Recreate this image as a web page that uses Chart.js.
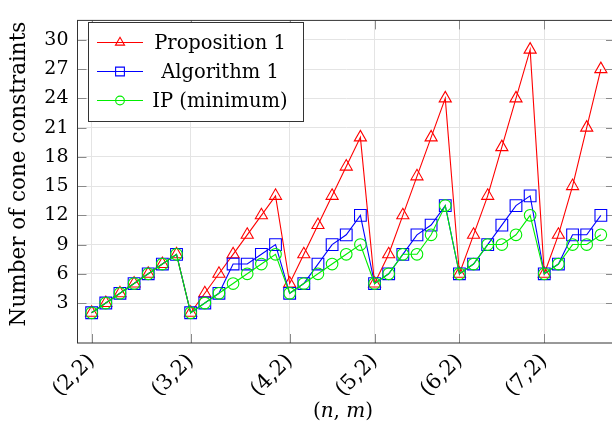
<!DOCTYPE html>
<html>
<head>
<meta charset="utf-8">
<script src="https://cdn.jsdelivr.net/npm/chart.js@4.4.1/dist/chart.umd.min.js"></script>
<style>
  html, body { margin: 0; padding: 0; background: #fff; overflow: hidden; }
  #wrap { width: 612px; height: 427px; overflow: hidden; position: relative; }
  #chart { display: block; }
</style>
</head>
<body>
<div id="wrap"><canvas id="chart" width="640" height="427"></canvas></div>
<script>
// x axis: point index, labelled only at the start of each n
const tickLabels = ['(2,2)', '(3,2)', '(4,2)', '(5,2)', '(6,2)', '(7,2)'];
const tickIndex = [0, 7, 14, 20, 26, 32];
const yTicks = [3, 6, 9, 12, 15, 18, 21, 24, 27, 30];

const proposition1 = [2, 3, 4, 5, 6, 7, 8,  2, 4, 6, 8, 10, 12, 14,  5, 8, 11, 14, 17, 20,
                      5, 8, 12, 16, 20, 24,  6, 10, 14, 19, 24, 29,  6, 10, 15, 21, 27];
const algorithm1   = [2, 3, 4, 5, 6, 7, 8,  2, 3, 4, 7, 7, 8, 9,  4, 5, 7, 9, 10, 12,
                      5, 6, 8, 10, 11, 13,  6, 7, 9, 11, 13, 14,  6, 7, 10, 10, 12];
const ipMinimum    = [2, 3, 4, 5, 6, 7, 8,  2, 3, 4, 5, 6, 7, 8,  4, 5, 6, 7, 8, 9,
                      5, 6, 8, 8, 10, 13,  6, 7, 9, 9, 10, 12,  6, 7, 9, 9, 10];

const FONT = "'DejaVu Serif', serif";

const series = [
  { label: 'Proposition 1', values: proposition1, color: '#ff0000', style: 'triangle', r: 7, order: 2 },
  { label: 'Algorithm 1', values: algorithm1, color: '#0000ff', style: 'rect', r: 8.3, order: 1 },
  { label: 'IP (minimum)', values: ipMinimum, color: '#00ee00', style: 'circle', r: 5.8, order: 0 },
];

const toPoints = arr => arr.map((v, i) => ({ x: i, y: v }));

// ticks, frame, axis titles and legend in pgfplots style
const decor = {
  id: 'decor',
  beforeDatasetsDraw(chart) {
    const { ctx, chartArea: a, scales: { x, y } } = chart;
    ctx.save();
    ctx.strokeStyle = '#8a8a8a';
    ctx.lineWidth = 1;
    ctx.beginPath();
    yTicks.forEach(v => {
      const py = Math.round(y.getPixelForValue(v)) + 0.5;
      ctx.moveTo(a.left, py); ctx.lineTo(a.left + 9, py);
      ctx.moveTo(a.right, py); ctx.lineTo(a.right - 9, py);
    });
    tickIndex.forEach(v => {
      const px = Math.round(x.getPixelForValue(v)) + 0.5;
      ctx.moveTo(px, a.bottom); ctx.lineTo(px, a.bottom - 9);
      ctx.moveTo(px, a.top); ctx.lineTo(px, a.top + 9);
    });
    ctx.stroke();
    ctx.restore();
  },
  afterDraw(chart) {
    const { ctx, chartArea: a } = chart;
    ctx.save();
    // frame
    ctx.strokeStyle = '#333';
    ctx.lineWidth = 1;
    ctx.strokeRect(a.left, a.top, a.right - a.left, a.bottom - a.top);

    // y title
    ctx.fillStyle = '#000';
    ctx.save();
    ctx.translate(19, 174);
    ctx.rotate(-Math.PI / 2);
    ctx.font = '21.5px ' + FONT;
    ctx.textAlign = 'center';
    ctx.textBaseline = 'middle';
    ctx.fillText('Number of cone constraints', 0, 0);
    ctx.restore();

    // x title (n, m) with italic letters
    const parts = [['(', ''], ['n', 'italic '], [', ', ''], ['m', 'italic '], [')', '']];
    let total = 0;
    parts.forEach(p => { ctx.font = p[1] + '20px ' + FONT; total += ctx.measureText(p[0]).width; });
    let cx = 343 - total / 2;
    ctx.textAlign = 'left';
    ctx.textBaseline = 'alphabetic';
    parts.forEach(p => {
      ctx.font = p[1] + '20px ' + FONT;
      ctx.fillText(p[0], cx, 417);
      cx += ctx.measureText(p[0]).width;
    });

    // legend
    const bx = 88.5, by = 22.5, bw = 215, bh = 99;
    ctx.fillStyle = '#fff';
    ctx.fillRect(bx, by, bw, bh);
    ctx.strokeStyle = '#333';
    ctx.strokeRect(bx, by, bw, bh);
    const rows = [42.5, 71.5, 100.5];
    series.forEach((s, i) => {
      const ry = rows[i];
      ctx.strokeStyle = s.color;
      ctx.lineWidth = 1.1;
      ctx.beginPath();
      ctx.moveTo(97, ry); ctx.lineTo(143, ry);
      ctx.stroke();
      ctx.fillStyle = 'rgba(0,0,0,0)';
      Chart.helpers.drawPoint(ctx, { pointStyle: s.style, radius: s.r * 0.75, rotation: 0, borderWidth: 1.1 }, 120, ry);
      ctx.fillStyle = '#000';
      ctx.font = '19.5px ' + FONT;
      ctx.textAlign = 'center';
      ctx.textBaseline = 'middle';
      ctx.fillText(s.label, 220, ry + 1);
    });
    ctx.restore();
  }
};

new Chart(document.getElementById('chart'), {
  type: 'line',
  data: {
    datasets: series.map(s => ({
      label: s.label,
      data: toPoints(s.values),
      borderColor: s.color,
      borderWidth: 1.1,
      pointStyle: s.style,
      pointRadius: s.r,
      pointBorderColor: s.color,
      pointBackgroundColor: 'rgba(0,0,0,0)',
      pointBorderWidth: 1.1,
      tension: 0,
      fill: false,
      order: s.order,
    })),
  },
  options: {
    responsive: false,
    devicePixelRatio: 1,
    animation: false,
    layout: { padding: { top: 9, right: 25, left: 0, bottom: 0 } },
    plugins: { legend: { display: false }, tooltip: { enabled: false } },
    scales: {
      x: {
        type: 'linear',
        min: -1,
        max: 37,
        afterBuildTicks: scale => { scale.ticks = tickIndex.map(v => ({ value: v })); },
        afterFit: scale => { scale.height = 84; },
        grid: { color: '#e4e4e4', drawTicks: false },
        border: { display: false },
        ticks: {
          autoSkip: false,
          minRotation: 45,
          maxRotation: 45,
          padding: 6,
          color: '#000',
          font: { family: FONT, size: 21 },
          callback: value => tickLabels[tickIndex.indexOf(value)],
        },
      },
      y: {
        min: -1.1,
        max: 32,
        afterBuildTicks: scale => { scale.ticks = yTicks.map(v => ({ value: v })); },
        afterFit: scale => { scale.width = 77.5; },
        grid: { color: '#e4e4e4', drawTicks: false },
        border: { display: false },
        ticks: {
          padding: 9,
          color: '#000',
          font: { family: FONT, size: 19 },
        },
      },
    },
  },
  plugins: [decor],
});
</script>
</body>
</html>
